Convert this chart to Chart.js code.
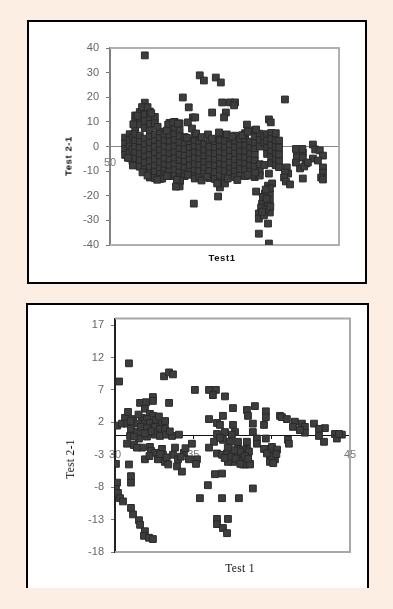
<!DOCTYPE html>
<html>
<head>
<meta charset="utf-8">
<script src="https://cdn.jsdelivr.net/npm/chart.js@4"></script>
<style>
html, body { margin: 0; padding: 0; width: 393px; height: 609px; background: #fdeee3; overflow: hidden; }
.panel { position: absolute; background: #fff; box-sizing: border-box; }
#panelTop { left: 27px; top: 20px; width: 340px; height: 264px; border: 2px solid #000; }
#panelBottom { left: 26px; top: 303px; width: 343px; height: 285px; border: 2px solid #000; border-bottom: 0; }
canvas { position: absolute; left: 0; top: 0; }
.lbl { position: absolute; color: #111; white-space: nowrap; transform: translate(-50%, -50%); }
.sans { font: bold 9.5px "Liberation Sans", sans-serif; letter-spacing: 0.6px; }
.serif { font: 11.5px "Liberation Serif", serif; letter-spacing: 0.3px; }
.rot { transform: translate(-50%, -50%) rotate(-90deg); }
</style>
</head>
<body>
<div class="panel" id="panelTop"><canvas id="chartTop" width="336" height="260"></canvas>
  <div class="lbl sans" style="left:193px;top:235px">Test1</div>
  <div class="lbl sans rot" style="left:39px;top:134px">Test 2-1</div>
</div>
<div class="panel" id="panelBottom"><canvas id="chartBottom" width="339" height="283"></canvas>
  <div class="lbl serif" style="left:212px;top:263px">Test 1</div>
  <div class="lbl serif rot" style="left:42px;top:154px">Test 2-1</div>
</div>
<script>
// top chart
var topXTicks = [50];
var topYTicks = [40, 30, 20, 10, 0, -10, -20, -30, -40];
var topTest1 = [
  53.3,53.3,53.3,53.3,
  54.3,54.3,54.3,54.3,54.3,
  54.9,54.9,54.9,
  55.5,55.5,55.5,55.5,55.5,55.5,55.5,55.5,55.5,
  56.5,56.5,56.5,56.5,56.5,56.5,56.5,56.5,56.5,
  57.6,57.6,57.6,57.6,57.6,57.6,57.6,57.6,57.6,57.6,57.6,
  58.7,58.7,58.7,58.7,58.7,58.7,58.7,58.7,58.7,58.7,58.7,58.7,
  59.8,59.8,59.8,59.8,59.8,59.8,59.8,59.8,59.8,59.8,
  60.9,60.9,60.9,60.9,60.9,60.9,60.9,60.9,60.9,
  61.9,61.9,61.9,61.9,61.9,61.9,61.9,61.9,
  63,63,63,63,63,63,63,63,63,63,
  64.1,64.1,64.1,64.1,64.1,64.1,64.1,64.1,64.1,64.1,
  65.2,65.2,65.2,65.2,65.2,65.2,65.2,65.2,65.2,65.2,65.2,65.2,
  66.3,66.3,66.3,66.3,66.3,66.3,66.3,66.3,
  67.4,67.4,67.4,67.4,67.4,67.4,
  68.5,68.5,68.5,68.5,68.5,68.5,68.5,68.5,68.5,
  69.5,69.5,69.5,69.5,69.5,69.5,69.5,
  70.6,70.6,70.6,70.6,70.6,70.6,
  71.7,71.7,71.7,71.7,71.7,71.7,71.7,
  72.9,72.9,72.9,72.9,72.9,72.9,72.9,
  74,74,74,74,74,74,74,74,74,74,
  75.1,75.1,75.1,75.1,75.1,75.1,75.1,75.1,
  76.2,76.2,76.2,76.2,76.2,76.2,76.2,
  77.3,77.3,77.3,77.3,77.3,77.3,77.3,77.3,
  78.4,78.4,78.4,78.4,78.4,78.4,78.4,
  79.5,79.5,79.5,79.5,79.5,79.5,79.5,79.5,
  80.6,80.6,80.6,80.6,80.6,80.6,
  81.6,81.6,81.6,81.6,81.6,81.6,81.6,81.6,81.6,
  82.7,82.7,82.7,82.7,82.7,
  83.7,83.7,83.7,
  84.3,84.3,84.3,84.3,
  85.2,85.2,85.2,85.2,85.2,85.2,84.7,
  86.2,86.2,86.2,86.2,86.2,86.2,
  86.9,86.9,86.9,86.9,86.9,
  90.8,92.1,90.8,92.1,92.8,91.5,92.4,90.6,92.1,90.6,92,
  94.3,94.8,95.8,96.5,94.3,95.4,96.5,96.5,96.1,96.5,93.2,
  88.6,88.9,88.2,88,88.4,89.3,
  82.7,81,81.7,
  81.9,84.5,85.4,83.8,84.9,84.9,83.2,84.5,84.9,82.5,82.5,83.6,84.5,82.5,84.7,
  73.6,68.3,64.4,65.3,61.4,
  57.6,65.9,67.2,69.6,70.5,73.1,74.2,74.5,76.2,77.3,77.1,75.3,74.9,72.3,
  68.1,68.6,67,67.9,68.8,88.2,71.4,73.8,75.5,79.9,81.9,84.7,85.1,62.7,63.8,64.8,
  56,57,58.2,59,55.1,60.4,62.4,66.8,70,72.3,76.7,78.9,80.1,
  53.9,55,57.1,58.2,60.3,62.4,64.6,67,70,71.2,75.7,77.8,80.1,73.4,
  83.4,84.2,83,84,83.2,84.9,84,85
];
var topDiff = [
  3.6,1.2,-1.1,-3.4,
  5,2.6,0,-2.4,-4.6,
  3.7,-1,-5.9,
  12.6,10.1,7.8,5.1,2.4,-0.2,-2.6,-5,-7.4,
  14,11.4,9,4.4,1.9,-0.6,-3,-5.6,-8.2,
  17.8,15.4,13,10.4,7.5,3.2,0.8,-1.6,-4.1,-6.5,-9.2,
  14.2,11.8,9.2,6.5,4,1.5,-1,-3.5,-6,-8.5,-10.8,-12.6,
  12,9.4,4.8,2.2,-0.2,-2.8,-5.2,-7.8,-10.2,-12.8,
  6,3.4,1,-1.5,-4,-6.4,-9,-11.2,-13.2,
  4.8,2.4,0,-2.6,-5,-7.4,-9.8,-11.4,
  9.6,7,4.4,2,-0.4,-3,-5.4,-7.8,-10.2,-12,
  10,7.6,5,2.6,0,-2.4,-4.8,-7.2,-9.6,-11.8,
  9.4,6.6,4.2,1.6,-1,-3.4,-5.8,-8.2,-10.6,-12.6,-14.2,-16.2,
  3.8,1.2,-1.2,-3.8,-6.2,-8.6,-11,-12,
  2,-0.6,-3,-5.4,-7.8,-10.2,
  5,2.4,0,-2.4,-4.8,-7.2,-9.8,-12,-13,
  2,-0.4,-2.8,-5.2,-7.6,-10,-12.6,
  1,-1.6,-4,-6.4,-8.8,-11,
  2.2,-0.2,-2.8,-5.2,-7.6,-10,-12.8,
  1.8,-0.6,-3,-5.4,-7.8,-10.4,-13.2,
  5,2.6,0,-2.4,-4.8,-7.2,-9.6,-12,-14.4,-16.6,
  2.2,-0.4,-2.8,-5.2,-7.6,-10,-12.6,-15,
  3,0.6,-1.8,-4.2,-6.6,-9,-11,
  4.4,2,-0.4,-2.8,-5.4,-7.8,-10.2,-12.4,
  3,0.4,-2,-4.4,-6.8,-9.2,-11.8,
  5.4,2.8,0.4,-2,-4.6,-7,-9.4,-12,
  2,-0.6,-3,-5.4,-7.8,-10.2,
  6.6,4,1.4,-1,-3.4,-5.8,-8.2,-10.8,-12.4,
  5.2,2.6,0,-7.2,-10.2,
  4,1.6,-7.5,
  5,2.4,-0.6,-3,
  5.5,3,0.6,-2,-4.4,-6.8,-11,
  5.4,2.4,-0.2,-3,-5.4,-7.6,
  2.4,-0.4,-3.2,-6,-8.4,
  -2.4,-2.4,-4.5,-4.5,-6.9,-8.9,-8.1,-6.5,-13,-1,-1,
  0.8,-1.2,-1.6,-3.7,-4.9,-5.7,-8.5,-10.6,-12.6,-13.4,-6.5,
  -8.5,-11,-10.6,-12.6,-14.2,-15.4,
  -11.8,-11.8,-10.6,
  -18.3,-15.9,-15,-19.1,-19.1,-22,-23.2,-24,-26.8,-27.2,-29.3,-28,-31.3,-35.4,-39.4,
  -20.3,-23.2,-16.3,-13.8,-13,
  37,19.9,15.9,28.9,26.8,28,26,17.9,17.9,17.9,16.7,13.8,11.8,13.8,
  11.8,11.8,9.8,7.3,5.3,19.1,4.9,5.7,4.9,8.9,6.9,11,9.8,8.9,9.8,9.3,
  12.5,16,16,13.5,9,8,6.5,3.5,3.8,3.2,4,4.6,6,
  -4.6,-7.7,-10.5,-11.8,-13.5,-12,-13.5,-11.5,-13.8,-12.3,-13,-13.6,-11.5,-15,
  -20.5,-21.2,-24.8,-25.5,-26.5,-17,-17.5,-24.4
];

// bottom chart
var bottomXTicks = [30, 35, 40, 45];
var bottomYTicks = [17, 12, 7, 2, -3, -8, -13, -18];
var bottomTest1 = [
  30.13,30.64,30.45,30.77,30.83,31.15,31.6,31.98,32.42,32.42,31.91,33.45,
  31.72,32.23,32.42,32.04,31.47,31.91,32.23,32.62,33,
  31.02,31.4,31.66,32.04,32.55,32.87,33.19,
  30.96,31.53,32.04,32.55,32.87,33.25,33.64,34.08,
  30.77,31.21,31.72,32.23,32.3,32.55,33,33.06,32.74,33.19,
  33.83,33.7,34.4,34.02,33.96,34.27,31.91,34.91,34.72,35.23,35.17,
  30.06,30.89,31.02,31.02,
  33.13,33.45,33.7,30.89,30.26,
  35.1,36,36.44,36.25,37.02,37.53,
  36,36,36.32,36.51,36.51,36.7,36.89,37.02,36.89,
  36.51,36.83,37.21,37.53,
  38.42,38.49,38.93,39.63,39.63,39.51,38.8,38.8,
  40.53,40.65,40.97,41.48,41.36,41.93,42.12,42.12,41.8,42.7,43.4,43.02,43.02,43.34,44.04,44.16,44.48,44.3,
  39.63,39.63,39.06,39.06,38.42,38.42,41.04,41.1,
  37.53,37.66,37.46,37.34,37.85,
  37.15,37.85,38.17,38.49,38.61,38.29,37.98,37.53,37.21,37.78,38.55,37.98,38.17,38.61,
  39.51,40.02,40.34,39.89,40.21,39.89,
  36.38,36.83,35.93,35.42,36.83,37.91,38.8,36.51,37.21,36.51,36.89,37.15,
  30.13,30.06,30.19,30.32,30.51,31.02,31.15,31.53,31.6,31.91,31.85,32.17,32.42,
  32.87,33.3,33.4,32.2,31.4,34.5,34.2,37.4,37.7,38,38.3,37,38.5,37.6,
  40,40.1,40.3,39.7,31,31.5,32.8,33.2,32.3,31.2,31.9,33.5,37.2,36.7
];
var bottomDiff = [
  1.5,2.7,1.8,1.8,3.6,2.5,5,5.1,5.9,5.3,4.1,5,
  2.7,3.3,3,2.5,1.8,1.8,1.9,2.4,1.9,
  1,0.5,1.3,1.1,1.3,1,1,
  -0.1,-0.5,-0.2,0.1,-0.1,0.1,-0.1,0.1,
  -1.3,-1.5,-1.9,-1.8,-2.4,-2.7,-2.1,-3,-3.7,-4.1,
  -1.9,-3,-2.7,-3.7,-4.8,-5.6,-3.7,-1.3,-3.7,-3.7,-4.4,
  -4.4,-4.5,-6.3,-7.3,
  9.1,9.7,9.4,11.1,8.3,
  7,7,7,6.2,6,4.2,
  2.5,-1.9,-1,1.9,0.2,1.6,3,0.5,-0.7,
  -2.8,-3,-3,-2.8,
  3.9,3,4.5,3.7,2.8,1.6,1.8,0.5,
  3,2.8,2.5,2.1,1.3,1.8,1.3,0.4,0.8,1.8,1.1,1,-0.1,-1,0.2,-0.5,0.1,0.2,
  -0.5,-2.1,-0.5,-1.3,-1,-2.1,-0.7,-1.3,
  1.6,0.5,0.1,-1,-1,
  -2.8,-2.1,-2.2,-2.8,-4.4,-4.5,-3.7,-4.1,-4.1,-3,-2.5,-2.5,-4.5,-4.5,
  -2.1,-1.8,-2.2,-3,-3.7,-4.1,
  -6,-5.9,-7.7,-9.7,-9.7,-9.7,-8.2,-12.9,-12.9,-13.7,-14.3,-15.1,
  -7.3,-8.3,-8.9,-9.7,-10.2,-11.2,-12.2,-13.1,-13.8,-14.8,-15.5,-15.8,-16,
  -2.9,-3.4,-4.5,-3.2,-1.9,-2,-3.3,-3.3,-3.6,-4.4,-3.2,-3.5,-3.6,-2.3,
  -3.2,-4.3,-2.9,-2.8,2.2,3.2,2.9,2.2,0.6,-0.2,0.3,0.6,-1.9,-0.4
];

// top, right and bottom edge of the plot
var plotFrame = {
    id: 'plotFrame',
    beforeDatasetsDraw: function (chart, args, opts) {
        var a = chart.chartArea, ctx = chart.ctx;
        ctx.save();
        ctx.strokeStyle = opts.color;
        ctx.lineWidth = 2;
        ctx.beginPath();
        ctx.moveTo(a.left, a.top);
        ctx.lineTo(a.right, a.top);
        ctx.lineTo(a.right, a.bottom);
        ctx.lineTo(a.left, a.bottom);
        ctx.stroke();
        ctx.restore();
    }
};

function makeChart(id, xs, ys, cfg) {
    var points = xs.map(function (x, i) { return { x: x, y: ys[i] }; });
    return new Chart(document.getElementById(id).getContext('2d'), {
        type: 'scatter',
        data: { datasets: [{
            data: points,
            pointStyle: 'rect',
            pointRadius: 4.8,
            backgroundColor: '#3d3d3d',
            borderColor: '#2a2a2a',
            borderWidth: 1
        }] },
        options: {
            responsive: false,
            animation: false,
            layout: { padding: cfg.padding },
            plugins: { legend: { display: false }, tooltip: { enabled: false }, plotFrame: { color: cfg.frame } },
            scales: {
                x: {
                    type: 'linear',
                    position: { y: 0 },
                    min: cfg.xMin,
                    max: cfg.xMax,
                    afterBuildTicks: function (s) { s.ticks = cfg.xTicks.map(function (v) { return { value: v }; }); },
                    border: { color: cfg.zero, width: 1 },
                    grid: { drawOnChartArea: false, drawTicks: cfg.xMark > 0, tickLength: cfg.xMark, color: cfg.zero },
                    ticks: { padding: cfg.xPad, maxRotation: 0, color: '#777', font: { family: 'Liberation Sans', size: 11 } }
                },
                y: {
                    min: cfg.yMin,
                    max: cfg.yMax,
                    afterBuildTicks: function (s) { s.ticks = cfg.yTicks.map(function (v) { return { value: v }; }); },
                    afterFit: function (s) { s.width = cfg.yWidth; },
                    border: { color: cfg.yLine, width: 2 },
                    grid: { drawOnChartArea: false, tickLength: 4, color: '#777' },
                    ticks: { padding: 7, color: '#666', font: { family: 'Liberation Sans', size: 11 } }
                }
            }
        },
        plugins: [plotFrame]
    });
}

makeChart('chartTop', topTest1, topDiff, {
    padding: { top: 26, right: 26, bottom: 37, left: 0 },
    xMin: 50, xMax: 100, yMin: -40, yMax: 40,
    xTicks: topXTicks, yTicks: topYTicks,
    xMark: 0, xPad: 10, yWidth: 81,
    frame: '#b0b0b0', zero: '#888', yLine: '#808080'
});
makeChart('chartBottom', bottomTest1, bottomDiff, {
    padding: { top: 11, right: 17, bottom: 36, left: 0 },
    xMin: 30, xMax: 45, yMin: -18, yMax: 18,
    xTicks: bottomXTicks, yTicks: bottomYTicks,
    xMark: 3, xPad: 10, yWidth: 87,
    frame: '#a8a8a8', zero: '#111', yLine: '#222'
});
</script>
</body>
</html>
